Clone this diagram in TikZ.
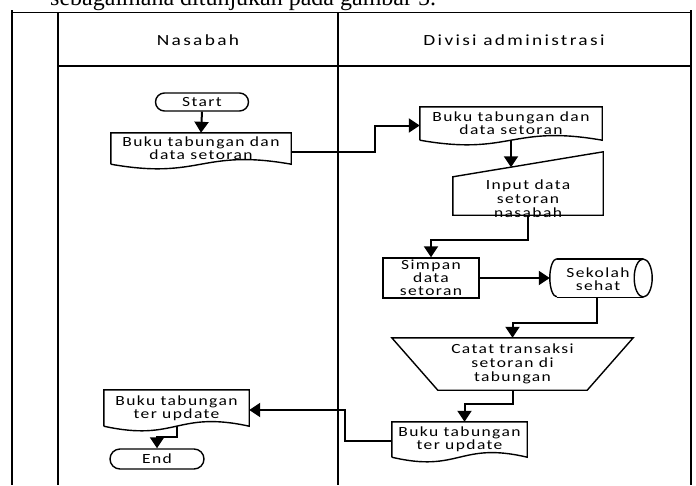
\documentclass[tikz,border=0pt]{standalone}
\usepackage{fontspec}
\usetikzlibrary{arrows.meta,calc}
\newfontfamily\bodyfnt[LetterSpace=10,FakeStretch=1.25]{Carlito}
\newfontfamily\hdrfnt[LetterSpace=15,FakeStretch=1.25]{Carlito}
\newfontfamily\capfnt{Liberation Serif}
\newcommand{\docdraw}[1]{\draw[shp] (#1.south west) -- (#1.north west) -- (#1.north east) -- (#1.south east) .. controls ($(#1.south)+(0,-16)$) and ($(#1.south)+(0,16)$) .. (#1.south west);}
\begin{document}
\begin{tikzpicture}[x=1pt,y=-1pt,
  lane/.style={line width=1.8pt},
  shp/.style={line width=1.4pt},
  box/.style={inner sep=0pt, align=center, font=\bodyfnt\fontsize{14}{13}\selectfont},
  conn/.style={line width=2pt, -{Triangle[length=11pt,width=14pt]}},
  hdr/.style={font=\hdrfnt\fontsize{15.5}{18}\selectfont, inner sep=0pt},
]
\useasboundingbox (0,0) rectangle (696,485);
\fill[white] (0,0) rectangle (696,485);
% caption fragment (cut by page top)
\node[font=\capfnt\fontsize{24}{28}\selectfont, anchor=base west, inner sep=0pt] (cap) at (50,5) {sebagaimana ditunjukan pada gambar 5.};
% swimlane frame
\draw[lane] (12,10) -- (12,485);
\draw[lane] (691,10) -- (691,485);
\draw[lane] (12,12.5) -- (691,12.5);
\draw[lane] (58,12.5) -- (58,485);
\draw[lane] (338,12.5) -- (338,485);
\draw[lane] (58,66) -- (691,66);
\node[hdr] (hN) at (198,40) {Nasabah};
\node[hdr] (hD) at (514,40) {Divisi administrasi};
% nodes
\node[box, draw, shp, rounded corners=9pt, minimum width=93pt, minimum height=18pt] (start) at (202,102) {Start};
\node[box, minimum width=180pt, minimum height=31pt] (doc1) at (201,148.5) {Buku tabungan dan\\data setoran};
\docdraw{doc1}
\node[box, minimum width=182pt, minimum height=33pt] (doc2) at (511,123.5) {Buku tabungan dan\\data setoran};
\docdraw{doc2}
\node[box, minimum width=150pt, minimum height=38pt] (mi) at (528,196) {};
\draw[shp] (mi.north west) -- ([yshift=25pt]mi.north east) -- (mi.south east) -- (mi.south west) -- cycle;
\node[box, font=\bodyfnt\fontsize{14}{14}\selectfont] (mit) at (528,198.5) {Input data\\setoran\\nasabah};
\coordinate (miTop) at (511,167.3);
\node[box, draw, shp, minimum width=96pt, minimum height=40pt] (proc) at (431,278) {Simpan\\data\\setoran};
\node[box, minimum width=102pt, minimum height=38pt] (cyl) at (601,278) {};
\draw[shp] ([xshift=7pt]cyl.north west) -- ([xshift=-9pt]cyl.north east)
           ([xshift=7pt]cyl.south west) -- ([xshift=-9pt]cyl.south east);
\draw[shp] ([xshift=7pt]cyl.north west) arc[start angle=90, end angle=270, x radius=7pt, y radius=19pt];
\draw[shp] ([xshift=-9pt]cyl.east) ellipse[x radius=9pt, y radius=19pt];
\node[box] (cylt) at (598,279) {Sekolah\\sehat};
\node[box, minimum width=241pt, minimum height=52pt, font=\bodyfnt\fontsize{14}{14}\selectfont] (trap) at (512.5,364) {Catat transaksi\\setoran di\\tabungan};
\draw[shp] (trap.north west) -- (trap.north east) -- ([xshift=-46pt]trap.south east) -- ([xshift=46pt]trap.south west) -- cycle;
\node[box, minimum width=135pt, minimum height=35pt] (doc3) at (459.5,439.5) {Buku tabungan\\ter update};
\docdraw{doc3}
\node[box, minimum width=145pt, minimum height=36pt] (doc4) at (176.5,408) {Buku tabungan\\ter update};
\docdraw{doc4}
\node[box, draw, shp, rounded corners=10pt, minimum width=94pt, minimum height=20pt] (endn) at (157,459) {End};
% connectors
\draw[conn] (start.south) -- (doc1.north);
\draw[conn] ([yshift=-3pt]doc1.east) -- ++(84,0) |- ([yshift=-2pt]doc2.west);
\draw[conn] (doc2.south) -- (miTop);
\draw[conn] (mi.south) -- ++(0,25) -| (proc.north);
\draw[conn] (proc.east) -- (cyl.west);
\draw[conn] ([xshift=-4pt]cyl.south) -- ++(0,26) -| (trap.north);
\draw[conn] (trap.south) -- ++(0,14) -| ([xshift=5pt]doc3.north);
\draw[conn] ([yshift=-1.5pt]doc3.west) -- ++(-47,0) |- ([yshift=-2pt]doc4.east);
\draw[conn] (doc4.south) -- ++(0,11) -| (endn.north);
\end{tikzpicture}
\end{document}
